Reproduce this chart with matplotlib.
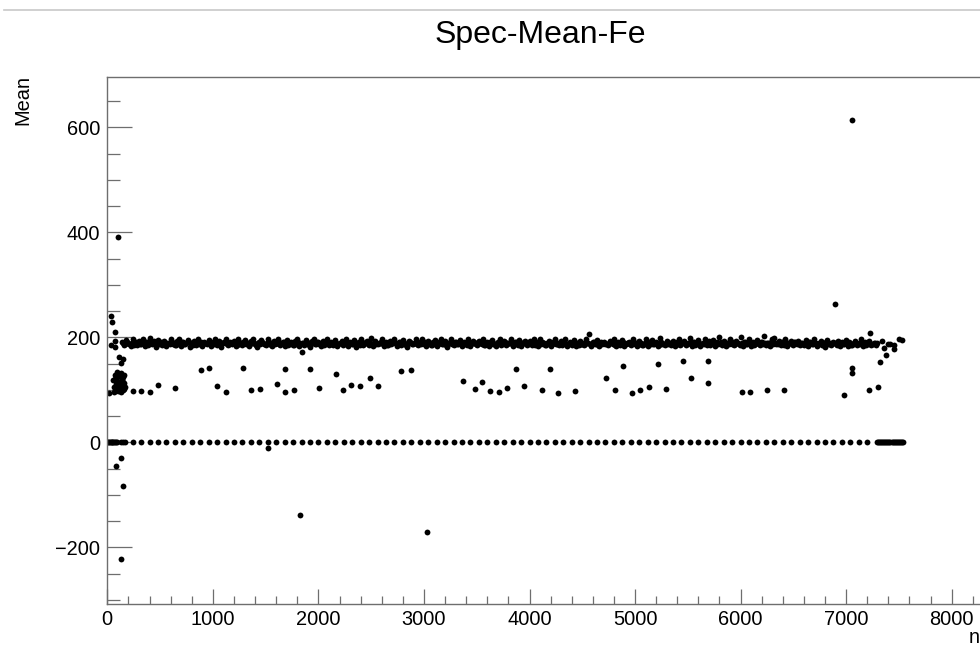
import numpy as np
import matplotlib
matplotlib.use("Agg")
import matplotlib.pyplot as plt
from matplotlib.ticker import MultipleLocator
from matplotlib.lines import Line2D

plt.rcParams['font.family'] = ['Liberation Sans', 'DejaVu Sans']

title = "Spec-Mean-Fe"
x_label = "n"
y_label = "Mean"
x_ticks = [0, 1000, 2000, 3000, 4000, 5000, 6000, 7000, 8000]
y_ticks = [-200, 0, 200, 400, 600]

# main band (~190): runs 140, 160, 180, ... (one value every 20 runs)
band_start = 140
band_step = 20
band_y = [
    192,186,195,189,183,197,190,185,194,188,196,184,191,198,187,193,182,195,189,186,
    194,183,190,196,188,185,193,197,184,191,187,195,182,190,194,186,197,189,183,192,
    188,195,184,191,197,186,193,182,190,196,185,192,188,194,183,197,189,186,195,190,
    184,193,196,187,182,191,195,188,185,197,190,183,194,189,196,186,192,184,195,188,
    191,185,194,197,183,190,186,195,189,182,193,196,187,191,184,194,188,197,185,192,
    186,195,183,190,194,188,197,184,192,187,195,182,191,196,185,189,193,186,198,184,
    193,187,190,196,183,192,185,194,189,197,184,191,186,195,188,182,194,190,187,196,
    185,192,197,188,184,193,190,186,195,183,191,196,187,194,182,190,197,185,192,188,
    195,184,191,187,196,183,193,189,185,194,190,197,186,192,184,195,188,183,191,196,
    187,193,185,190,197,184,192,188,195,183,190,194,186,193,185,197,189,184,196,191,
    190,186,194,183,191,196,187,185,193,189,197,184,192,186,195,183,190,194,188,185,
    196,206,184,192,187,195,183,191,190,188,185,194,190,197,184,192,186,195,183,189,
    192,185,196,188,184,193,190,186,197,183,191,195,187,192,184,199,188,185,194,190,
    186,194,183,191,196,187,193,185,190,198,184,192,188,195,183,190,197,186,193,189,
    195,184,191,200,186,193,183,190,196,187,185,194,189,201,184,192,187,196,183,191,
    188,195,185,192,203,186,190,184,197,199,187,193,185,191,196,183,189,194,186,192,
    193,186,190,185,195,183,191,188,196,184,190,193,186,182,195,189,185,192,187,194,
    184,191,187,195,183,190,186,193,185,189,196,183,191,187,194,185,190,186,
]
# main band, in-between runs 150, 170, 190, ...
band2_y = [
    189,187,191,188,190,186,192,189,187,190,188,191,186,189,192,188,190,187,191,189,
    188,190,187,192,189,186,190,188,191,187,189,192,188,186,190,189,187,191,188,190,
    190,188,189,187,191,189,186,190,192,188,187,190,189,191,186,188,190,192,187,189,
    187,191,189,186,190,188,192,187,189,190,186,191,188,189,187,190,192,188,186,190,
    189,186,190,191,187,189,188,192,186,190,189,187,191,188,190,186,189,192,188,187,
    191,189,187,190,186,192,188,189,190,187,191,188,186,190,189,192,187,189,188,190,
    188,190,192,187,189,186,190,188,191,189,187,192,188,190,186,189,191,187,190,188,
    190,187,189,191,188,190,186,192,189,187,190,188,191,186,189,190,188,192,187,189,
    187,189,190,186,191,188,189,187,192,190,188,186,190,189,191,187,188,190,189,186,
    189,191,188,190,187,189,192,186,190,188,191,189,187,190,188,186,192,189,187,190,
    186,189,191,188,190,187,189,190,186,192,188,189,187,191,189,190,186,188,190,187,
    190,188,187,191,189,186,190,188,192,187,189,191,188,186,190,189,187,192,188,190,
    188,190,189,187,191,188,186,190,189,192,187,188,190,189,186,191,188,190,187,189,
    189,187,190,188,186,191,189,187,190,188,192,186,189,190,188,187,191,189,186,190,
    187,190,188,191,189,186,190,187,189,192,188,190,186,189,191,187,190,188,189,186,
    190,188,191,187,189,190,186,192,188,189,187,190,191,186,188,190,189,187,191,188,
    188,189,187,190,186,191,189,188,190,187,189,186,190,192,188,187,190,189,186,188,
    189,187,190,188,191,186,189,190,187,188,190,189,186,191,188,187,189,190,
]

# rows of zero values
zero_runs = [
    0, 8, 16, 24, 32, 40, 48, 56, 64, 72, 80, 88, 130, 152, 168,
    240, 320, 400, 480, 560, 640, 720, 800, 880, 960, 1040, 1120, 1200, 1280,
    1360, 1440, 1520, 1600, 1680, 1760, 1840, 1920, 2000, 2080, 2160, 2240,
    2320, 2400, 2480, 2560, 2640, 2720, 2800, 2880, 2960, 3040, 3120, 3200,
    3280, 3360, 3440, 3520, 3600, 3680, 3760, 3840, 3920, 4000, 4080, 4160,
    4240, 4320, 4400, 4480, 4560, 4640, 4720, 4800, 4880, 4960, 5040, 5120,
    5200, 5280, 5360, 5440, 5520, 5600, 5680, 5760, 5840, 5920, 6000, 6080,
    6160, 6240, 6320, 6400, 6480, 6560, 6640, 6720, 6800, 6880, 6960, 7040,
    7120, 7200,
    7290, 7300, 7310, 7320, 7330, 7340, 7350, 7360, 7370, 7380, 7390, 7400,
    7410, 7420, 7430, 7440, 7450, 7460, 7470, 7480, 7490, 7500, 7510, 7520,
    7530, 7540,
]

# early runs cluster
early_n = [38, 47, 76, 76, 35, 76, 19, 55, 62, 70, 75, 80, 85, 90, 95, 100,
           105, 110, 115, 120, 125, 130, 135, 140, 145, 150, 155, 160, 165,
           60, 72, 88, 98, 108, 118, 128, 138, 148, 158, 92, 112, 132, 152,
           102, 122, 142, 108, 133, 146]
early_y = [240, 229, 210, 194, 185, 182, 94, 118, 105, 128, 98, 112, 122, 101,
           134, 108, 97, 126, 115, 103, 130, 99, 118, 109, 124, 100, 113, 128,
           105, 96, 121, 110, 100, 131, 107, 96, 125, 112, 102, 117, 99, 133,
           104, 127, 97, 119, 163, 152, 158]

# scattered points
mid_n = [240, 319, 401, 480, 645, 883, 965, 1044, 1123, 1284,
         1364, 1443, 1604, 1683, 1683, 1765, 1847, 1923, 2002, 2167,
         2230, 2310, 2390, 2490, 2560, 2780, 2880, 3370, 3480, 3550,
         3630, 3710, 3790, 3870, 3950, 4120, 4190, 4270, 4430, 4729,
         4808, 4890, 4973, 5051, 5131, 5213, 5292, 5450, 5532, 5691,
         5691, 6012, 6092, 6250, 6411, 6975, 7057, 7057, 7215, 7304,
         7323, 7336, 7360, 7373, 7398, 7420, 7449, 7452, 7500, 7525,
         7225]
mid_y = [97, 97, 96, 110, 104, 138, 142, 107, 96, 142,
         99, 101, 111, 139, 96, 99, 172, 139, 103, 131,
         100, 110, 108, 122, 108, 135, 137, 116, 101, 114,
         97, 96, 103, 140, 107, 99, 139, 94, 97, 123,
         100, 146, 94, 99, 105, 149, 102, 154, 122, 154,
         113, 96, 96, 99, 99, 91, 141, 133, 99, 105,
         153, 194, 180, 167, 188, 188, 186, 177, 197, 195,
         209]

# outliers
out_n = [101, 7055, 6897, 85, 133, 146, 133, 1826, 3029, 1522]
out_y = [391, 614, 263, -45, -30, -84, -222, -138, -171, -11]

W, H = 980, 646
fig = plt.figure(figsize=(W / 100, H / 100), dpi=100)
ax_left, ax_right, ax_top, ax_bot = 107.3, 1003, 77, 604
ax = fig.add_axes([ax_left / W, 1 - ax_bot / H, (ax_right - ax_left) / W, (ax_bot - ax_top) / H])

band_x = band_start + band_step * np.arange(len(band_y))
band2_x = band_start + band_step // 2 + band_step * np.arange(len(band2_y))
ms = 4.2
kw = dict(ls='none', marker='o', ms=ms, color='black', mec='black', mew=0)
ax.plot(band_x, band_y, **kw)
ax.plot(band2_x, band2_y, **kw)
ax.plot(zero_runs, np.zeros(len(zero_runs)), **kw)
ax.plot(early_n, early_y, **kw)
ax.plot(mid_n, mid_y, **kw)
ax.plot(out_n, out_y, **kw)

ax.set_xlim(0, 8486)
ax.set_ylim(-308, 696)

ax.set_xticks(x_ticks)
ax.set_yticks(y_ticks)
ax.xaxis.set_minor_locator(MultipleLocator(200))
ax.yaxis.set_minor_locator(MultipleLocator(50))

axcol = '#6e6e6e'
for s in ['left', 'bottom', 'top', 'right']:
    ax.spines[s].set_color(axcol)
    ax.spines[s].set_linewidth(1.0)

ax.tick_params(axis='both', which='both', direction='in', colors=axcol,
               labelcolor='black', labelsize=14.4, width=0.9)
ax.tick_params(axis='y', which='major', length=18, pad=5)
ax.tick_params(axis='y', which='minor', length=9)
ax.tick_params(axis='x', which='major', length=11, pad=4)
ax.tick_params(axis='x', which='minor', length=5.5)

fig.text(540 / W, 1 - 43 / H, title, ha='center', va='baseline', fontsize=23)
fig.text(23 / W, 1 - 75 / H, y_label, rotation=90, ha='center', va='top', fontsize=14.4)
fig.text(969 / W, 1 - 643 / H, x_label, ha='left', va='baseline', fontsize=14.4)

fig.add_artist(Line2D([4 / W, 1.0], [1 - 10 / H, 1 - 10 / H], color='#c8c8c8',
                      lw=1.2, transform=fig.transFigure))

fig.savefig("out.png", dpi=100)
